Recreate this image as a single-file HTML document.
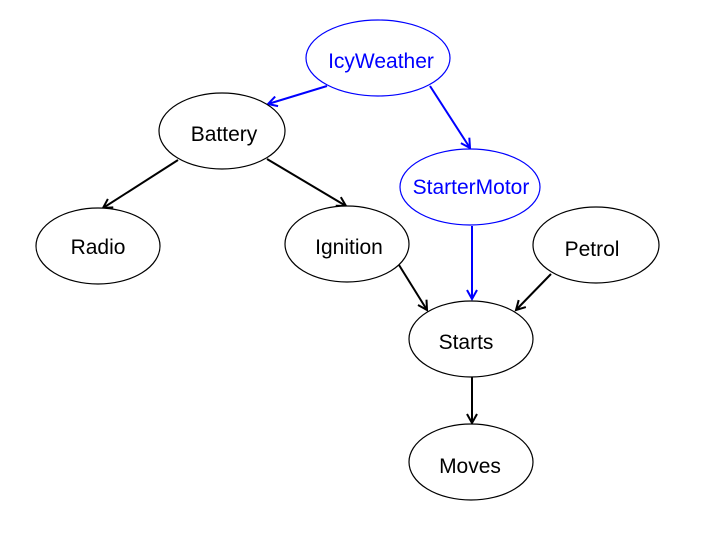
<!DOCTYPE html>
<html><head><meta charset="utf-8"><style>body{margin:0;background:#fff}svg{display:block}</style></head>
<body>
<svg width="720" height="540" viewBox="0 0 720 540" xmlns="http://www.w3.org/2000/svg" font-family="Liberation Sans, sans-serif" font-size="21">
<defs>
<marker id="ab" markerWidth="12" markerHeight="12" refX="10" refY="6" orient="auto" markerUnits="userSpaceOnUse"><path d="M1,1 L10,6 L1,11" fill="none" stroke="#000" stroke-width="2"/></marker>
<marker id="au" markerWidth="12" markerHeight="12" refX="10" refY="6" orient="auto" markerUnits="userSpaceOnUse"><path d="M1,1 L10,6 L1,11" fill="none" stroke="#00f" stroke-width="2"/></marker>
</defs>
<g stroke-width="2" fill="none">
<line x1="327" y1="86" x2="268" y2="104" stroke="#00f" marker-end="url(#au)"/>
<line x1="430" y1="86" x2="470" y2="148" stroke="#00f" marker-end="url(#au)"/>
<line x1="472" y1="226" x2="472" y2="299" stroke="#00f" marker-end="url(#au)"/>
<line x1="178" y1="160" x2="103" y2="208" stroke="#000" marker-end="url(#ab)"/>
<line x1="267" y1="159" x2="346" y2="206" stroke="#000" marker-end="url(#ab)"/>
<line x1="399" y1="265" x2="427" y2="310" stroke="#000" marker-end="url(#ab)"/>
<line x1="551" y1="274" x2="516" y2="310" stroke="#000" marker-end="url(#ab)"/>
<line x1="472" y1="377" x2="472" y2="423" stroke="#000" marker-end="url(#ab)"/>
</g>
<g stroke-width="1.2" fill="#fff">
<ellipse cx="378" cy="58" rx="72" ry="38" stroke="#00f"/>
<ellipse cx="470" cy="187" rx="70" ry="38" stroke="#00f"/>
<ellipse cx="222" cy="131" rx="63" ry="38" stroke="#000"/>
<ellipse cx="98" cy="246" rx="62" ry="38" stroke="#000"/>
<ellipse cx="347" cy="244" rx="62" ry="38" stroke="#000"/>
<ellipse cx="596" cy="245" rx="63" ry="38" stroke="#000"/>
<ellipse cx="471" cy="339" rx="62" ry="38" stroke="#000"/>
<ellipse cx="471" cy="462" rx="62" ry="38" stroke="#000"/>
</g>
<g text-anchor="middle">
<text x="381" y="68" fill="#00f">IcyWeather</text>
<text x="471" y="194" fill="#00f">StarterMotor</text>
<text x="224" y="141">Battery</text>
<text x="98" y="254">Radio</text>
<text x="349" y="254">Ignition</text>
<text x="592" y="256">Petrol</text>
<text x="466" y="349">Starts</text>
<text x="470" y="473">Moves</text>
</g>
</svg>
</body></html>
